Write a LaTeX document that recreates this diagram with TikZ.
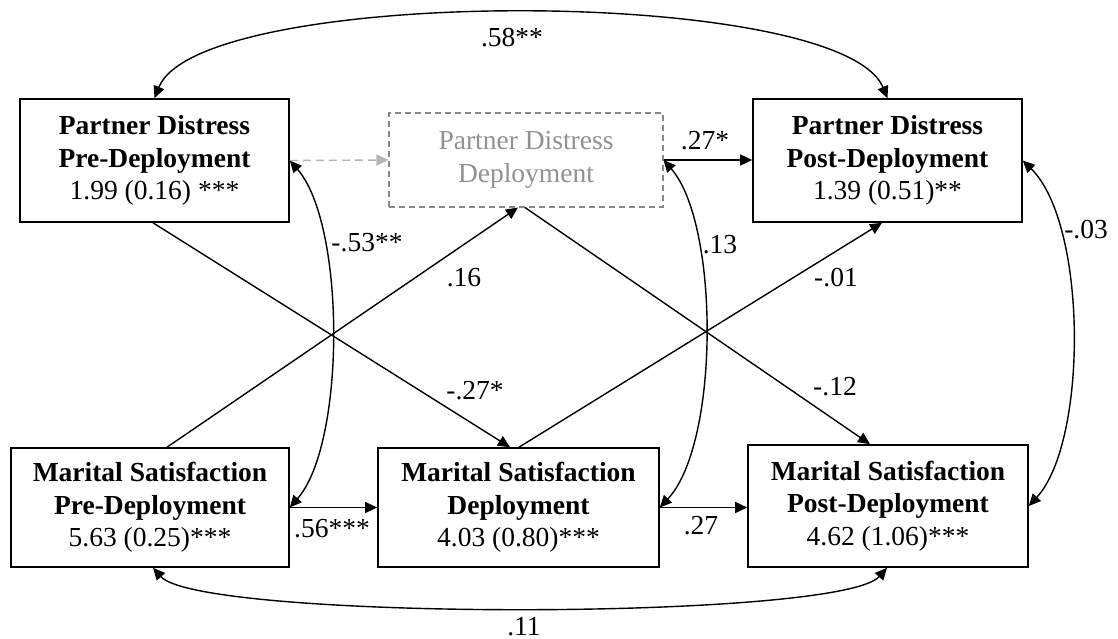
\documentclass[tikz,border=0pt]{standalone}
\usepackage{fontspec}
\setmainfont{Liberation Serif}
\usetikzlibrary{arrows.meta}
\definecolor{boxgray}{RGB}{135,135,135}
\definecolor{txtgray}{RGB}{145,145,145}
\definecolor{arrgray}{RGB}{180,180,180}
\begin{document}
\begin{tikzpicture}[x=1pt,y=-1pt,
  every node/.style={font=\fontsize{27.5}{32.5}\selectfont},
  box/.style={draw, line width=1.6pt, inner sep=0pt, align=center},
  gbox/.style={draw=boxgray, line width=1.1pt, dash pattern=on 6pt off 4pt, text=txtgray, inner sep=0pt, align=center},
  arr/.style={line width=1.4pt, -{Triangle[length=12pt,width=11pt]}},
  dbl/.style={line width=1.4pt, {Triangle[length=12pt,width=11pt]}-{Triangle[length=12pt,width=11pt]}},
  garr/.style={draw=arrgray, line width=1.4pt, dash pattern=on 8pt off 5pt, -{Triangle[length=12pt,width=11pt]}},
  lab/.style={inner sep=0pt, anchor=base}]
\useasboundingbox (0,0) rectangle (1118,639);
\fill[white] (0,0) rectangle (1118,639);

\node[box, minimum width=269pt, minimum height=123pt] (pdpre) at (154.5,160.5)
  {\textbf{Partner Distress}\\\textbf{Pre-Deployment}\\1.99 (0.16) ***};
\node[gbox, minimum width=274pt, minimum height=94pt] (pddep) at (526,160)
  {Partner Distress\\Deployment};
\node[box, minimum width=269pt, minimum height=123pt] (pdpost) at (887.5,160.5)
  {\textbf{Partner Distress}\\\textbf{Post-Deployment}\\1.39 (0.51)**};
\node[box, minimum width=278pt, minimum height=119pt] (mspre) at (150,507.5)
  {\textbf{Marital Satisfaction}\\\textbf{Pre-Deployment}\\5.63 (0.25)***};
\node[box, minimum width=281pt, minimum height=119pt] (msdep) at (518.5,507.5)
  {\textbf{Marital Satisfaction}\\\textbf{Deployment}\\4.03 (0.80)***};
\node[box, minimum width=280pt, minimum height=122pt] (mspost) at (888,506)
  {\textbf{Marital Satisfaction}\\\textbf{Post-Deployment}\\4.62 (1.06)***};

% covariances (double-headed)
\draw[dbl] (pdpre.north) .. controls +(45,-113) and +(-47,-113) .. (pdpost.north);
\draw[dbl] ([xshift=3pt]mspre.south) .. controls +(47,53) and +(-47,53) .. ([xshift=-1pt]mspost.south);
\draw[dbl] (pdpre.east) .. controls +(56,64) and +(56,-64) .. (mspre.east);
\draw[dbl] (pddep.east) .. controls +(56,64) and +(60,-64) .. (msdep.east);
\draw[dbl] (pdpost.east) .. controls +(65,64) and +(59,-64) .. (mspost.east);

% paths
\draw[garr] (pdpre.east) -- (pddep.west);
\draw[arr] (pddep.east) -- (pddep.east -| pdpost.west);
\draw[arr] (mspre.east) -- (msdep.west);
\draw[arr] (msdep.east) -- (msdep.east -| mspost.west);
\draw[arr] ([xshift=17pt]mspre.north) -- ([xshift=-8pt]pddep.south);
\draw[arr] ([xshift=-1.5pt]pdpre.south) -- ([xshift=-8.5pt]msdep.north);
\draw[arr] ([xshift=0.5pt]msdep.north) -- ([xshift=-5.5pt]pdpost.south);
\draw[arr] ([xshift=-1pt]pddep.south) -- ([xshift=-18pt]mspost.north);

% labels
\node[lab] (l58) at (512,47) {.58**};
\node[lab] (l53) at (367,251) {-.53**};
\node[lab] (l16) at (464,286) {.16};
\node[lab] (l27a) at (475,399) {-.27*};
\node[lab] (l27s) at (705,150) {.27*};
\node[lab] (l13) at (720,253) {.13};
\node[lab] (l01) at (836,286) {-.01};
\node[lab] (l12) at (835,395) {-.12};
\node[lab] (l03) at (1086,238) {-.03};
\node[lab] (l56) at (332,537) {.56***};
\node[lab] (l27) at (701,534) {.27};
\node[lab] (l11) at (524,635) {.11};
\end{tikzpicture}
\end{document}
